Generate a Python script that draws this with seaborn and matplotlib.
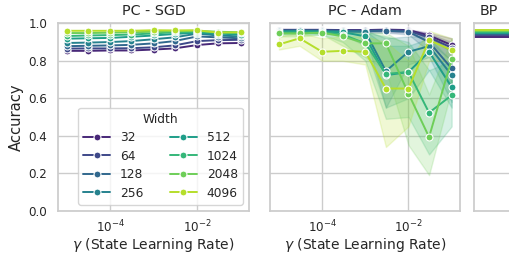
import numpy as np
import pandas as pd
import matplotlib
matplotlib.use('Agg')
import matplotlib.pyplot as plt
import seaborn as sns

# --- Data ---
gamma = [1e-5, 3e-5, 1e-4, 3e-4, 1e-3, 3e-3, 1e-2, 3e-2, 1e-1]
widths = ['32', '64', '128', '256', '512', '1024', '2048', '4096']

# PC - SGD, one row per width
sgd_acc = [
    [0.853, 0.853, 0.855, 0.855, 0.860, 0.866, 0.884, 0.893, 0.895],
    [0.865, 0.866, 0.866, 0.867, 0.872, 0.882, 0.905, 0.910, 0.912],
    [0.878, 0.880, 0.882, 0.885, 0.893, 0.905, 0.930, 0.925, 0.920],
    [0.895, 0.897, 0.900, 0.905, 0.915, 0.925, 0.945, 0.935, 0.930],
    [0.918, 0.920, 0.922, 0.928, 0.935, 0.943, 0.950, 0.945, 0.940],
    [0.932, 0.935, 0.937, 0.940, 0.946, 0.952, 0.955, 0.952, 0.948],
    [0.948, 0.948, 0.950, 0.952, 0.955, 0.958, 0.960, 0.955, 0.952],
    [0.960, 0.960, 0.960, 0.960, 0.963, 0.962, 0.963, 0.950, 0.952],
]

# PC - Adam: mean and band (min / max over seeds)
adam_acc = [
    [0.965, 0.965, 0.965, 0.964, 0.964, 0.966, 0.964, 0.935, 0.884],
    [0.963, 0.964, 0.963, 0.962, 0.962, 0.963, 0.960, 0.925, 0.870],
    [0.961, 0.962, 0.961, 0.960, 0.958, 0.960, 0.955, 0.900, 0.759],
    [0.958, 0.960, 0.958, 0.957, 0.955, 0.745, 0.848, 0.878, 0.723],
    [0.955, 0.957, 0.955, 0.953, 0.930, 0.723, 0.740, 0.848, 0.660],
    [0.950, 0.950, 0.950, 0.940, 0.893, 0.730, 0.740, 0.523, 0.616],
    [0.946, 0.946, 0.950, 0.930, 0.893, 0.893, 0.625, 0.393, 0.807],
    [0.887, 0.920, 0.848, 0.853, 0.848, 0.652, 0.652, 0.910, 0.857],
]
adam_lo = [
    [0.960, 0.960, 0.960, 0.960, 0.960, 0.960, 0.958, 0.920, 0.850],
    [0.956, 0.957, 0.956, 0.955, 0.955, 0.955, 0.950, 0.900, 0.800],
    [0.955, 0.955, 0.955, 0.954, 0.950, 0.950, 0.940, 0.850, 0.650],
    [0.950, 0.950, 0.950, 0.950, 0.940, 0.550, 0.780, 0.820, 0.580],
    [0.945, 0.950, 0.945, 0.940, 0.880, 0.550, 0.600, 0.750, 0.550],
    [0.940, 0.940, 0.940, 0.900, 0.800, 0.490, 0.500, 0.300, 0.450],
    [0.930, 0.930, 0.940, 0.880, 0.820, 0.750, 0.350, 0.190, 0.650],
    [0.860, 0.880, 0.800, 0.800, 0.780, 0.340, 0.450, 0.800, 0.800],
]
adam_hi = [
    [0.970, 0.970, 0.970, 0.968, 0.968, 0.970, 0.968, 0.950, 0.920],
    [0.968, 0.968, 0.968, 0.967, 0.967, 0.968, 0.966, 0.945, 0.900],
    [0.967, 0.967, 0.967, 0.966, 0.965, 0.966, 0.963, 0.940, 0.850],
    [0.965, 0.965, 0.965, 0.964, 0.963, 0.920, 0.930, 0.930, 0.850],
    [0.965, 0.965, 0.965, 0.960, 0.960, 0.880, 0.880, 0.920, 0.800],
    [0.960, 0.960, 0.960, 0.960, 0.950, 0.930, 0.900, 0.750, 0.800],
    [0.960, 0.960, 0.960, 0.955, 0.950, 0.950, 0.880, 0.620, 0.920],
    [0.930, 0.950, 0.920, 0.930, 0.930, 0.900, 0.800, 0.960, 0.920],
]

# BP (independent of gamma)
bp_acc = [0.925, 0.935, 0.943, 0.947, 0.950, 0.955, 0.960, 0.965]

# --- Long-form tables ---
sgd_rows = []
for i, w in enumerate(widths):
    for j, g in enumerate(gamma):
        sgd_rows.append({'gamma': g, 'acc': sgd_acc[i][j], 'Width': w})
sgd_df = pd.DataFrame(sgd_rows)

adam_rows = []
for i, w in enumerate(widths):
    for j, g in enumerate(gamma):
        for v in (adam_lo[i][j], adam_acc[i][j], adam_hi[i][j]):
            adam_rows.append({'gamma': g, 'acc': v, 'Width': w})
adam_df = pd.DataFrame(adam_rows)

# --- Style ---
sns.set_theme(style='whitegrid')
plt.rcParams['font.family'] = ['DejaVu Sans']
plt.rcParams['xtick.labelsize'] = 8.6
plt.rcParams['ytick.labelsize'] = 8.6
plt.rcParams['xtick.major.pad'] = 0
plt.rcParams['ytick.major.pad'] = 2

palette = sns.color_palette('viridis', len(widths))

fig = plt.figure(figsize=(5.1, 2.63), dpi=100)
ax1 = fig.add_axes([0.1143, 0.1989, 0.3745, 0.7125])
ax2 = fig.add_axes([0.530, 0.1989, 0.3725, 0.7125], sharey=ax1)
ax3 = fig.add_axes([0.9294, 0.1989, 0.3725, 0.7125], sharey=ax1)

line_kw = dict(marker='o', markersize=5, markeredgecolor='white',
               markeredgewidth=0.8, linewidth=1.4)

sns.lineplot(data=sgd_df, x='gamma', y='acc', hue='Width', hue_order=widths,
             palette=palette, errorbar=None, ax=ax1, **line_kw)
sns.lineplot(data=adam_df, x='gamma', y='acc', hue='Width', hue_order=widths,
             palette=palette, estimator='median',
             errorbar=lambda v: (v.min(), v.max()), legend=False, ax=ax2, **line_kw)

for i, v in enumerate(bp_acc):
    ax3.axhline(v, color=palette[i], linewidth=1.4)

for ax in (ax1, ax2):
    ax.set_xscale('log')
    ax.set_xticks([1e-4, 1e-2])
    ax.xaxis.set_minor_locator(matplotlib.ticker.NullLocator())
    ax.set_xlabel(r'$\gamma$ (State Learning Rate)', fontsize=10, labelpad=0.5)

ax1.set_ylim(0, 1.0)
ax1.set_yticks([0, 0.2, 0.4, 0.6, 0.8, 1.0])
ax1.set_ylabel('Accuracy', fontsize=10.6, labelpad=3)
ax2.set_ylabel('')
ax2.tick_params(axis='y', labelleft=False)
ax3.tick_params(axis='y', labelleft=False)
ax3.set_xticks([])

ax1.set_title('PC - SGD', fontsize=10.3)
ax2.set_title('PC - Adam', fontsize=10.3)
ax3.set_title('BP', fontsize=10.3, x=0.079)

sns.move_legend(ax1, 'lower center', bbox_to_anchor=(0.535, 0.0), ncol=2,
                title='Width', fontsize=8.8, title_fontsize=8.8,
                columnspacing=2.2, handlelength=2.2, labelspacing=0.45)

fig.savefig('out.png', dpi=100)
